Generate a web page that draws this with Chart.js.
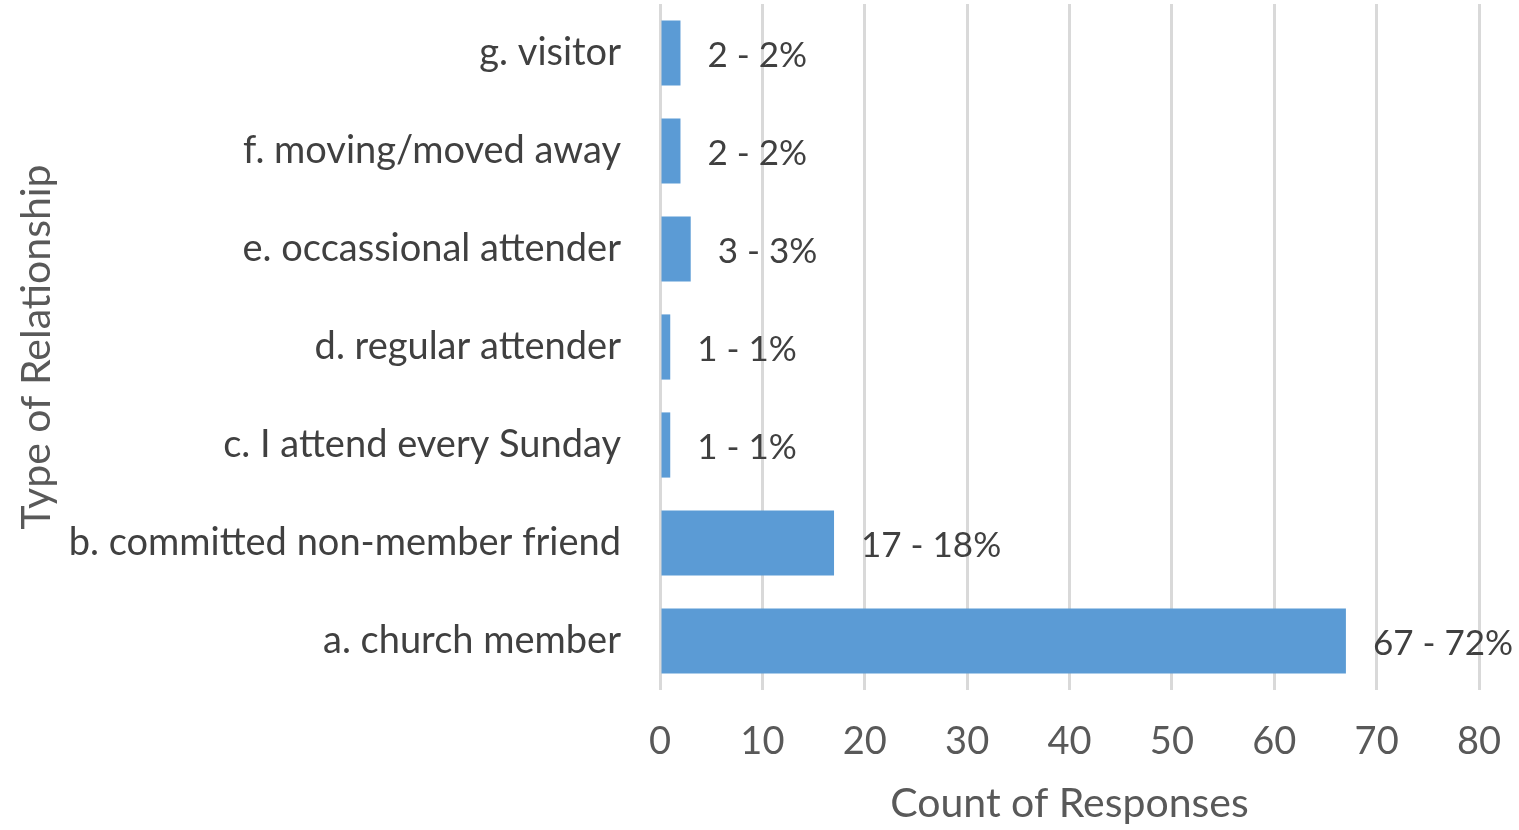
<!DOCTYPE html>
<html><head><meta charset="utf-8">
<script src="https://cdn.jsdelivr.net/npm/chart.js@4/dist/chart.umd.min.js"></script>
<style>html,body{margin:0;padding:0;background:#fff}#wrap{width:1519px;height:830px}</style>
</head><body><div id="wrap"><canvas id="c" width="1519" height="830"></canvas></div>
<script>
const categories = ["g. visitor","f. moving/moved away","e. occassional attender","d. regular attender","c. I attend every Sunday","b. committed non-member friend","a. church member"];
const counts = [2,2,3,1,1,17,67];
const percents = [2,2,3,1,1,18,72];
const xTicks = [0,10,20,30,40,50,60,70,80];

const FONT = "Lato";
const labelPlugin = {
  id:'barLabels',
  afterDatasetsDraw(chart){
    const ctx = chart.ctx;
    const meta = chart.getDatasetMeta(0);
    ctx.save();
    ctx.font = "35px " + FONT;
    ctx.fillStyle = "#404040";
    ctx.textAlign = "left";
    ctx.textBaseline = "middle";
    meta.data.forEach((bar,i)=>{
      ctx.fillText(counts[i] + " - " + percents[i] + "%", bar.x + 27, bar.y + 3);
    });
    ctx.restore();
  }
};

new Chart(document.getElementById('c'), {
  type:'bar',
  data:{labels:categories, datasets:[{data:counts, backgroundColor:'#5b9bd5', borderWidth:0, categoryPercentage:1, barPercentage:0.665}]},
  options:{
    indexAxis:'y', responsive:false, animation:false,
    layout:{padding:{left:0,right:40,top:4,bottom:0}},
    plugins:{legend:{display:false}, tooltip:{enabled:false}},
    scales:{
      x:{min:0,max:80,
        afterBuildTicks(s){ s.ticks = xTicks.map(v=>({value:v})); },
        afterFit(s){ s.height = 140; s.paddingLeft = 0; s.paddingRight = 0; },
        grid:{color:'#d9d9d9', lineWidth:3, drawTicks:false},
        border:{display:false},
        ticks:{color:'#595959', font:{family:FONT,size:38}, padding:29},
        title:{display:true, text:'Count of Responses', color:'#595959', font:{family:FONT,size:41}, padding:{top:8,bottom:2}}
      },
      y:{
        afterFit(s){ s.width = 660; s.paddingTop = 0; s.paddingBottom = 0; },
        grid:{display:false, drawTicks:false},
        border:{display:false},
        ticks:{color:'#404040', font:{family:FONT,size:38}, padding:39},
        title:{display:true, text:'Type of Relationship', color:'#595959', font:{family:FONT,size:41}, padding:{top:12,bottom:0}}
      }
    }
  },
  plugins:[labelPlugin]
});
</script></body></html>
